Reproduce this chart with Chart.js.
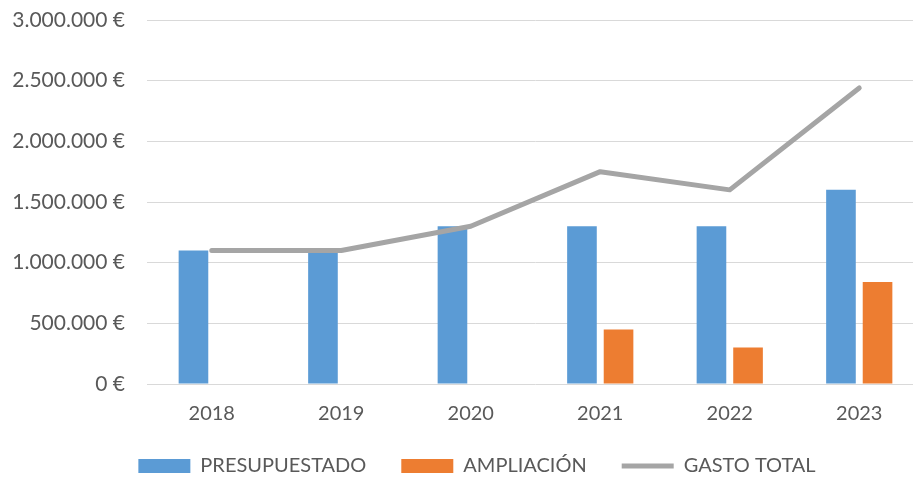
<!DOCTYPE html>
<html>
<head>
<meta charset="utf-8">
<script src="https://cdn.jsdelivr.net/npm/chart.js@4.4.1/dist/chart.umd.min.js"></script>
<style>
  html, body { margin: 0; padding: 0; background: #fff; overflow: hidden; }
  #wrap { width: 924px; height: 481px; }
</style>
</head>
<body>
<div id="wrap"><canvas id="c" width="924" height="481"></canvas></div>
<script>
const categories = ['2018', '2019', '2020', '2021', '2022', '2023'];
const presupuestado = [1100000, 1100000, 1300000, 1300000, 1300000, 1600000];
const ampliacion = [null, null, null, 450000, 300000, 840000];
const gastoTotal = [1100000, 1100000, 1300000, 1750000, 1600000, 2440000];
const yTicks = [0, 500000, 1000000, 1500000, 2000000, 2500000, 3000000];

function fmtEuro(v) {
  return String(Math.round(v)).replace(/\B(?=(\d{3})+(?!\d))/g, '.') + ' €';
}

const FONT = 'Lato, "Liberation Sans", sans-serif';

const legendShift = {
  id: 'legendShift',
  afterLayout(chart) {
    if (chart.legend) {
      chart.legend.left += 15;
      chart.legend.right += 15;
    }
  }
};

new Chart(document.getElementById('c'), {
  type: 'bar',
  data: {
    labels: categories,
    datasets: [
      {
        label: 'PRESUPUESTADO',
        data: presupuestado,
        backgroundColor: '#5B9BD5',
        borderWidth: 0,
        order: 2,
        categoryPercentage: 0.565,
        barPercentage: 0.81,
        pointStyle: 'rect'
      },
      {
        label: 'AMPLIACIÓN',
        data: ampliacion,
        backgroundColor: '#ED7D31',
        borderWidth: 0,
        order: 2,
        categoryPercentage: 0.565,
        barPercentage: 0.81,
        pointStyle: 'rect'
      },
      {
        type: 'line',
        label: 'GASTO TOTAL',
        data: gastoTotal,
        borderColor: '#A5A5A5',
        backgroundColor: '#A5A5A5',
        borderWidth: 5,
        borderCapStyle: 'round',
        borderJoinStyle: 'round',
        pointRadius: 0,
        pointHoverRadius: 0,
        tension: 0,
        order: 1,
        pointStyle: 'line'
      }
    ]
  },
  options: {
    responsive: false,
    animation: false,
    layout: { padding: { left: 0, right: 0, top: 20, bottom: 0 } },
    plugins: {
      tooltip: { enabled: false },
      legend: {
        position: 'bottom',
        maxHeight: 60,
        labels: {
          sort: (a, b) => a.datasetIndex - b.datasetIndex,
          usePointStyle: true,
          pointStyleWidth: 52,
          boxHeight: 14,
          padding: 35,
          color: '#595959',
          font: { family: FONT, size: 20 }
        }
      }
    },
    scales: {
      x: {
        grid: { display: false, drawTicks: false },
        border: { display: false },
        ticks: { color: '#595959', padding: 18, font: { family: FONT, size: 20 } },
        afterFit: (s) => { s.height = 37; }
      },
      y: {
        min: 0,
        max: 3000000,
        afterBuildTicks: (s) => { s.ticks = yTicks.map(v => ({ value: v })); },
        grid: { color: '#D9D9D9', lineWidth: 1, drawTicks: false },
        border: { display: false },
        ticks: {
          color: '#595959',
          padding: 22,
          font: { family: FONT, size: 21 },
          callback: (v) => fmtEuro(v)
        },
        afterFit: (s) => { s.width = 147; s.paddingTop = 0; s.paddingBottom = 0; }
      }
    }
  },
  plugins: [legendShift]
});
</script>
</body>
</html>
